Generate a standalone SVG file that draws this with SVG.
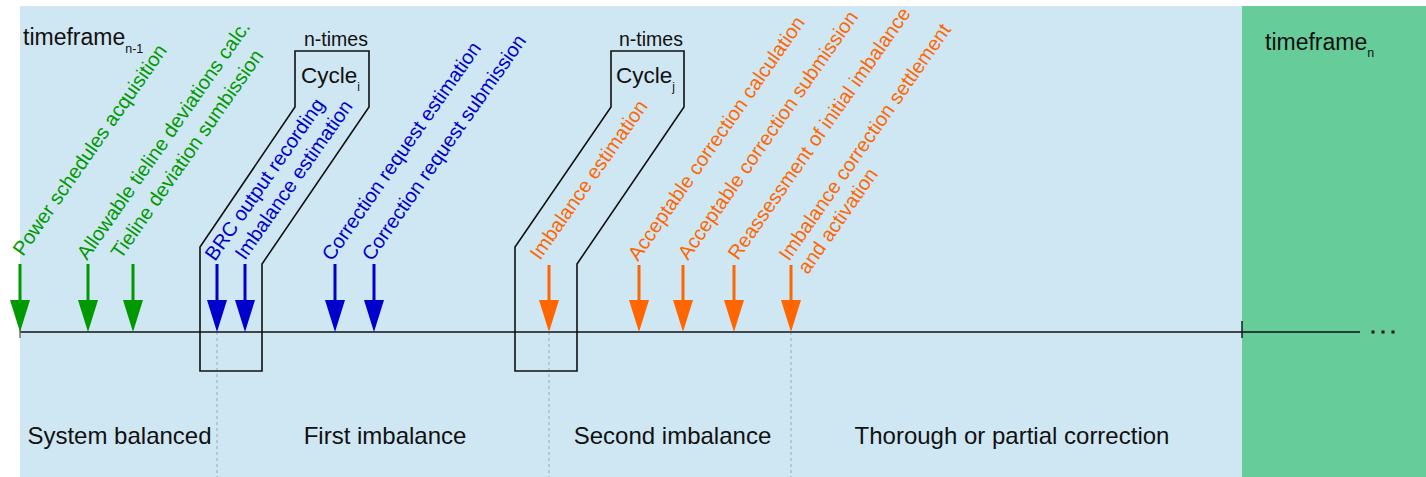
<svg xmlns="http://www.w3.org/2000/svg" width="1426" height="477" viewBox="0 0 1426 477">
<style>
text{font-family:"Liberation Sans",Arial,sans-serif;}
.lbl{font-size:20px;}
.g{fill:#009900;}
.b{fill:#0000cc;}
.o{fill:#ff6600;}
.ph{font-size:24px;fill:#111;text-anchor:middle;}
.cyc{fill:none;stroke:#111;stroke-width:1.6;}
.sg{stroke:#009900;stroke-width:3;}
.sb{stroke:#0000cc;stroke-width:3;}
.so{stroke:#ff6600;stroke-width:3;}
.dash{stroke:#99aab5;stroke-width:1;stroke-dasharray:3 3;}
</style>
<defs>
<marker id="hg" markerUnits="userSpaceOnUse" markerWidth="32" markerHeight="20" refX="0" refY="10" orient="auto" viewBox="0 0 32 20"><path d="M0,0 L32,10 L0,20 z" fill="#009900"/></marker>
<marker id="hb" markerUnits="userSpaceOnUse" markerWidth="32" markerHeight="20" refX="0" refY="10" orient="auto" viewBox="0 0 32 20"><path d="M0,0 L32,10 L0,20 z" fill="#0000cc"/></marker>
<marker id="ho" markerUnits="userSpaceOnUse" markerWidth="32" markerHeight="20" refX="0" refY="10" orient="auto" viewBox="0 0 32 20"><path d="M0,0 L32,10 L0,20 z" fill="#ff6600"/></marker>
</defs>
<rect x="0" y="0" width="1426" height="477" fill="#ffffff"/>
<g id="timeframe-n-1">
<rect x="20" y="6" width="1222" height="471" fill="#cfe6f3"/>
<text x="23" y="45" font-size="23" fill="#111">timeframe<tspan font-size="12.5" dy="8">n-1</tspan></text>
</g>
<g id="timeframe-n">
<rect x="1242" y="6" width="184" height="471" fill="#66cc99"/>
<text x="1265" y="50" font-size="23" fill="#111">timeframe<tspan font-size="12.5" dy="7">n</tspan></text>
</g>
<g id="phases">
<text class="ph" x="119.5" y="444">System balanced</text>
<text class="ph" x="385" y="444">First imbalance</text>
<text class="ph" x="672.5" y="444">Second imbalance</text>
<text class="ph" x="1012" y="444">Thorough or partial correction</text>
</g>
<g id="connectors">
<line class="dash" x1="217" y1="332" x2="217" y2="477"/>
<line class="dash" x1="549" y1="332" x2="549" y2="477"/>
<line class="dash" x1="791" y1="332" x2="791" y2="477"/>
<line x1="20" y1="332" x2="1360" y2="332" stroke="#111" stroke-width="1.6"/>
<line x1="20" y1="321" x2="20" y2="338" stroke="#555" stroke-width="1.2"/>
<line x1="1242" y1="321" x2="1242" y2="338" stroke="#111" stroke-width="1.4"/>
<rect x="1371.5" y="330.5" width="3" height="3" fill="#111"/>
<rect x="1381.5" y="330.5" width="3" height="3" fill="#111"/>
<rect x="1391.5" y="330.5" width="3" height="3" fill="#111"/>
</g>
<g id="cycle-i">
<polygon class="cyc" points="295,51 369,51 369,107 262,264 262,371 200,371 200,247 295,107"/>
<text x="304" y="46" font-size="19.5" fill="#111">n-times</text>
<text x="301" y="83" font-size="22.5" fill="#111">Cycle<tspan font-size="12" dy="8">i</tspan></text>
</g>
<g id="cycle-j">
<polygon class="cyc" points="611,51 684,51 684,107 577,264 577,371 515,371 515,247 611,107"/>
<text x="619" y="46" font-size="19.5" fill="#111">n-times</text>
<text x="616" y="83" font-size="22.5" fill="#111">Cycle<tspan font-size="12" dy="8">j</tspan></text>
</g>
<g id="ev-power">
<line class="sg" x1="20" y1="264" x2="20" y2="300" marker-end="url(#hg)"/>
<text class="lbl g" transform="translate(23,257) rotate(-55)">Power schedules acquisition</text>
</g>
<g id="ev-allowable">
<line class="sg" x1="88" y1="264" x2="88" y2="300" marker-end="url(#hg)"/>
<text class="lbl g" transform="translate(87,261) rotate(-55)">Allowable tieline deviations calc.</text>
</g>
<g id="ev-tieline">
<line class="sg" x1="133" y1="264" x2="133" y2="300" marker-end="url(#hg)"/>
<text class="lbl g" transform="translate(121,260) rotate(-55)">Tieline deviation sumbission</text>
</g>
<g id="ev-brc">
<line class="sb" x1="217" y1="264" x2="217" y2="300" marker-end="url(#hb)"/>
<text class="lbl b" transform="translate(215,262) rotate(-55)">BRC output recording</text>
</g>
<g id="ev-imb1">
<line class="sb" x1="245" y1="264" x2="245" y2="300" marker-end="url(#hb)"/>
<text class="lbl b" transform="translate(245,261) rotate(-55)">Imbalance estimation</text>
</g>
<g id="ev-corr-est">
<line class="sb" x1="335" y1="264" x2="335" y2="300" marker-end="url(#hb)"/>
<text class="lbl b" transform="translate(332,262) rotate(-55)">Correction request estimation</text>
</g>
<g id="ev-corr-sub">
<line class="sb" x1="374" y1="264" x2="374" y2="300" marker-end="url(#hb)"/>
<text class="lbl b" transform="translate(372,262) rotate(-55)">Correction request submission</text>
</g>
<g id="ev-imb2">
<line class="so" x1="549" y1="265" x2="549" y2="300" marker-end="url(#ho)"/>
<text class="lbl o" transform="translate(540,261) rotate(-55)">Imbalance estimation</text>
</g>
<g id="ev-acc-calc">
<line class="so" x1="639" y1="265" x2="639" y2="300" marker-end="url(#ho)"/>
<text class="lbl o" transform="translate(638,262) rotate(-55)">Acceptable correction calculation</text>
</g>
<g id="ev-acc-sub">
<line class="so" x1="683" y1="265" x2="683" y2="300" marker-end="url(#ho)"/>
<text class="lbl o" transform="translate(688,261) rotate(-55)">Acceptable correction submission</text>
</g>
<g id="ev-reassess">
<line class="so" x1="734" y1="265" x2="734" y2="300" marker-end="url(#ho)"/>
<text class="lbl o" transform="translate(738,261) rotate(-55)">Reassessment of initial imbalance</text>
</g>
<g id="ev-settle">
<line class="so" x1="791" y1="265" x2="791" y2="300" marker-end="url(#ho)"/>
<text class="lbl o" transform="translate(789,262) rotate(-55)">Imbalance correction settlement<tspan x="0" dy="23">and activation</tspan></text>
</g>
</svg>
